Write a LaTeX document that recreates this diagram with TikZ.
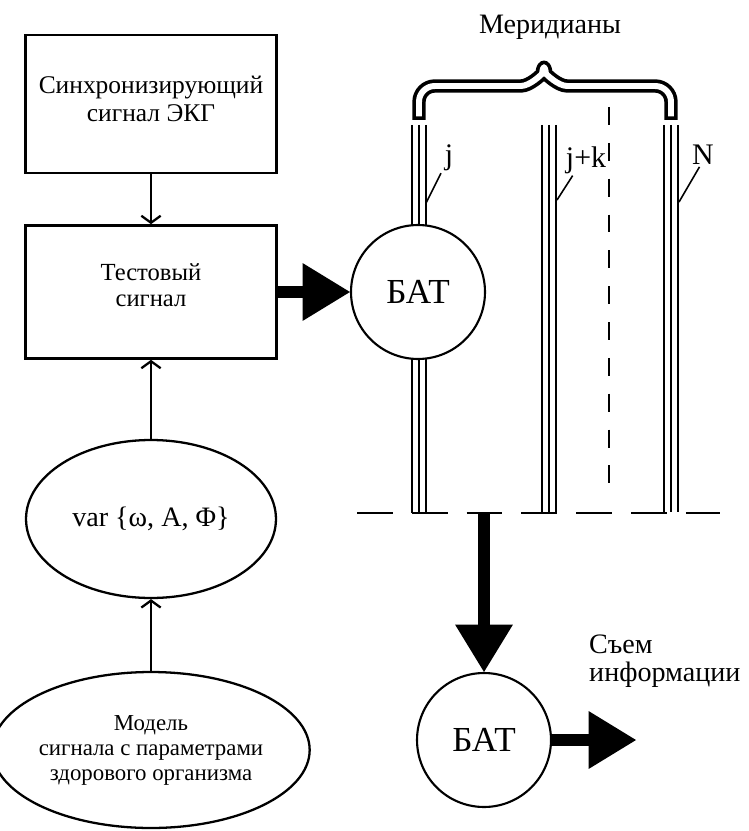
\documentclass[tikz,border=0pt]{standalone}
\usepackage{fontspec}
\setmainfont{Liberation Serif}
\usetikzlibrary{arrows.meta,shapes.geometric}

\begin{document}
\begin{tikzpicture}[x=0.02cm, y=-0.02cm,
    box/.style={draw, line width=1.5pt, minimum width=5.02cm, align=center, inner sep=0pt},
    oval/.style={draw, ellipse, line width=1.3pt, align=center, inner sep=0pt},
    bat/.style={draw, circle, line width=1.2pt, minimum size=2.68cm, fill=white, inner sep=0pt,
        font=\fontsize{20}{24}\selectfont},
    thinarrow/.style={line width=1.3pt, -{Straight Barb[length=4pt,width=11pt]}},
    fatarrow/.style={line width=6.5pt, -{Triangle[length=27pt,width=33pt,line width=0pt]}},
    mline/.style={line width=1.1pt},
    lbl/.style={font=\fontsize{17}{19}\selectfont, inner sep=1pt}]

    \useasboundingbox (0,0) rectangle (748,831);

    % Блоки слева
    \node[box, minimum height=2.76cm,
        label={[align=center, yshift=2.8pt, font=\fontsize{14.5}{16}\selectfont]center:Синхронизирующий\\сигнал ЭКГ}] (sync) at (151,104) {};
    \node[box, minimum height=2.66cm,
        label={[align=center, yshift=4pt, font=\fontsize{14}{15}\selectfont]center:Тестовый\\сигнал}] (test) at (151,292) {};
    \node[oval, minimum width=5cm, minimum height=3.16cm, font=\fontsize{16}{18}\selectfont] (var) at (151,519) {var \{ω, A, Φ\}};
    \node[oval, minimum width=5.64cm, minimum height=3.12cm, font=\fontsize{13}{14.2}\selectfont] (model) at (151,750) {Модель\\сигнала с параметрами\\здорового организма};

    \draw[thinarrow] (sync) -- (test);
    \draw[thinarrow] (var) -- (test);
    \draw[thinarrow] (model) -- (var);

    % Меридианы
    \foreach \mx/\my in {419/513, 549/513, 671/512} {
        \foreach \dx in {-7,0,7}
            \draw[mline] (\mx+\dx,125) -- (\mx+\dx,\my);
    }
    \draw[line width=1.5pt, dash pattern=on 10.2pt off 10.2pt] (609,107) -- (609,492);
    \draw[line width=1.6pt, dash pattern=on 20.4pt off 10.8pt] (357,513) -- (720,513);

    % Скобка
    \draw[line width=7.6pt, line join=round, rounded corners=9pt,
        postaction={draw=white, line width=3.4pt, shorten <=2.1pt, shorten >=2.1pt}]
        (419,120) -- (419,86) -- (505,86) .. controls (530,86) and (542,74) .. (544,58)
        .. controls (546,74) and (558,86) .. (583,86) -- (671,86) -- (671,120);
    \node[font=\fontsize{16}{18}\selectfont] (merid) at (550,27) {Меридианы};

    % Подписи меридианов
    \node[lbl] (lj) at (449,158) {j};
    \node[lbl] (ljk) at (586,160) {j+k};
    \node[lbl] (lN) at (703,155) {N};
    \coordinate (cj) at (426,203);
    \coordinate (cjk) at (557,200);
    \coordinate (cN) at (679,202);
    \draw[line width=0.9pt] ([xshift=-1pt]lj.south west) -- (cj);
    \draw[line width=0.9pt] ([xshift=5pt]ljk.south west) -- (cjk);
    \draw[line width=0.9pt] ([xshift=-2pt]lN.south) -- (cN);

    % БАТ
    \node[bat] (bat1) at (418,292) {БАТ};
    \draw[fatarrow] (test) -- (bat1);

    \coordinate (sbor) at (484,513);
    \node[bat] (bat2) at (484,740) {БАТ};
    \draw[fatarrow] (sbor) -- (bat2);
    \coordinate (vyhod) at (636,740);
    \draw[fatarrow] (bat2) -- (vyhod);
    \node[anchor=west, align=left, font=\fontsize{16}{16}\selectfont] (sjom) at (583,661) {Съем\\информации};
\end{tikzpicture}
\end{document}
